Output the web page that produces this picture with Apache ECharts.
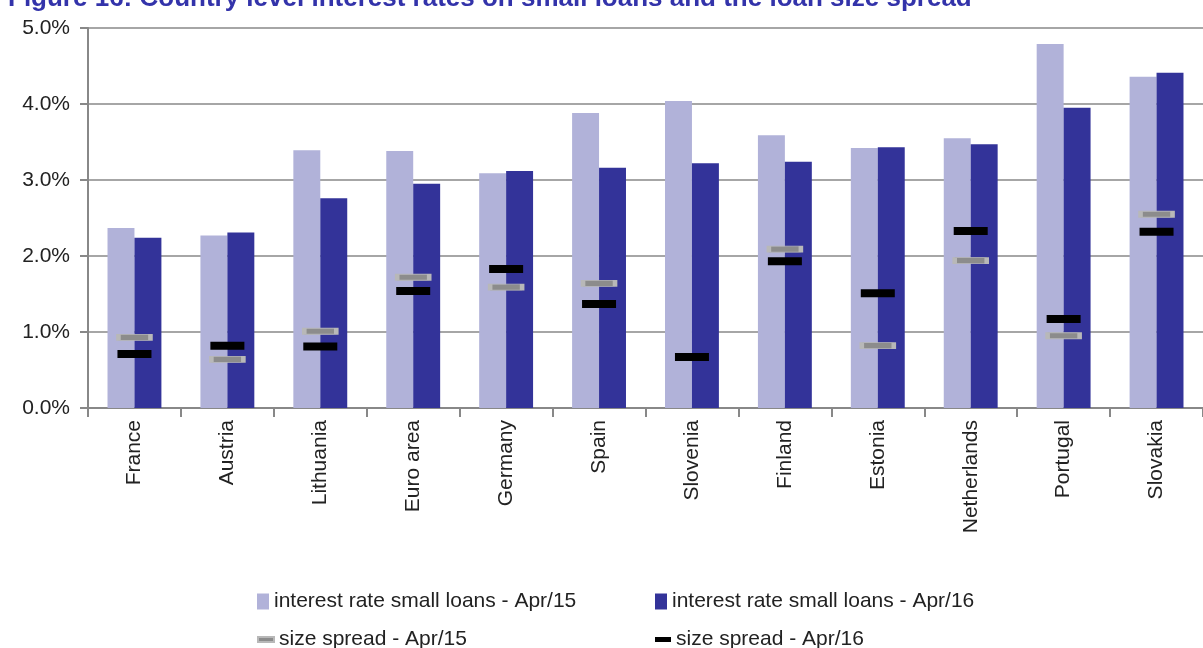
<!DOCTYPE html>
<html>
<head>
<meta charset="utf-8" />
<title>Interest rates on small loans</title>
<script src="https://cdn.jsdelivr.net/npm/echarts@6/dist/echarts.min.js"></script>
<style>
  html, body { margin: 0; padding: 0; background: #fff; }
  #chart { width: 1203px; height: 648px; }
</style>
</head>
<body>
<div id="chart"></div>
<script>
// data
var countries = ['France', 'Austria', 'Lithuania', 'Euro area', 'Germany', 'Spain', 'Slovenia', 'Finland', 'Estonia', 'Netherlands', 'Portugal', 'Slovakia'];
var rateApr15 = [2.37, 2.27, 3.39, 3.38, 3.09, 3.88, 4.04, 3.59, 3.42, 3.55, 4.79, 4.36];
var rateApr16 = [2.24, 2.31, 2.76, 2.95, 3.12, 3.16, 3.22, 3.24, 3.43, 3.47, 3.95, 4.41];
var spreadApr15 = [0.93, 0.64, 1.01, 1.72, 1.59, 1.64, null, 2.09, 0.82, 1.94, 0.95, 2.55];
var spreadApr16 = [0.71, 0.82, 0.81, 1.54, 1.83, 1.37, 0.67, 1.93, 1.51, 2.33, 1.17, 2.32];

var names = ['interest rate small loans - Apr/15', 'interest rate small loans - Apr/16', 'size spread - Apr/15', 'size spread - Apr/16'];
var font = '"Liberation Sans Narrow", "Liberation Sans", sans-serif';

var myChart = echarts.init(document.getElementById('chart'));

function legendAt(name, left, top, icon, w, h) {
    return {
        data: [name],
        left: left, top: top,
        icon: icon,
        itemWidth: w, itemHeight: h,
        itemGap: 4,
        textStyle: { fontFamily: font, fontSize: 21, color: '#222' }
    };
}

var option = {
    animation: false,
    // the figure title is cut off at the top edge of the picture
    graphic: [{
        type: 'text',
        x: 8, y: -14,
        silent: true,
        style: {
            text: 'Figure 16: Country level interest rates on small loans and the loan size spread',
            font: 'bold 26px "Liberation Sans", sans-serif',
            fill: '#3333aa',
            verticalAlign: 'top'
        }
    }],
    legend: [
        legendAt(names[0], 252, 586, 'rect', 12, 16),
        legendAt(names[1], 650, 586, 'rect', 12, 16),
        legendAt(names[2], 252, 624, 'rect', 16, 5),
        legendAt(names[3], 650, 624, 'rect', 16, 5)
    ],
    grid: { left: 88, right: -13, top: 28, bottom: 240 },
    xAxis: {
        type: 'category',
        data: countries,
        axisLine: { lineStyle: { color: '#888', width: 2 } },
        axisTick: { show: true, length: 9, lineStyle: { color: '#888', width: 2 } },
        axisLabel: {
            rotate: 90, margin: 12, fontFamily: font, fontSize: 21, color: '#222'
        }
    },
    yAxis: {
        type: 'value',
        min: 0, max: 5, interval: 1,
        axisLine: { show: true, lineStyle: { color: '#888', width: 2 } },
        axisTick: { show: true, length: 8, lineStyle: { color: '#888', width: 2 } },
        splitLine: { lineStyle: { color: '#888', width: 1.5 } },
        axisLabel: {
            margin: 18, fontFamily: font, fontSize: 21, color: '#222',
            formatter: function (v) { return v.toFixed(1) + '%'; }
        }
    },
    series: [
        {
            name: names[0], type: 'bar', data: rateApr15,
            barGap: '0%', barCategoryGap: '42%',
            itemStyle: { color: '#b1b2d9' }
        },
        {
            name: names[1], type: 'bar', data: rateApr16,
            itemStyle: { color: '#333399' }
        },
        {
            name: names[2], type: 'scatter', data: spreadApr15,
            symbol: 'rect', symbolSize: [32, 6],
            itemStyle: { color: '#8c8c8c', borderColor: '#b8b8b8', borderWidth: 2, opacity: 1 },
            z: 5
        },
        {
            name: names[3], type: 'scatter', data: spreadApr16,
            symbol: 'rect', symbolSize: [34, 8],
            itemStyle: { color: '#000', opacity: 1 },
            z: 6
        }
    ]
};
myChart.setOption(option);
</script>
</body>
</html>
